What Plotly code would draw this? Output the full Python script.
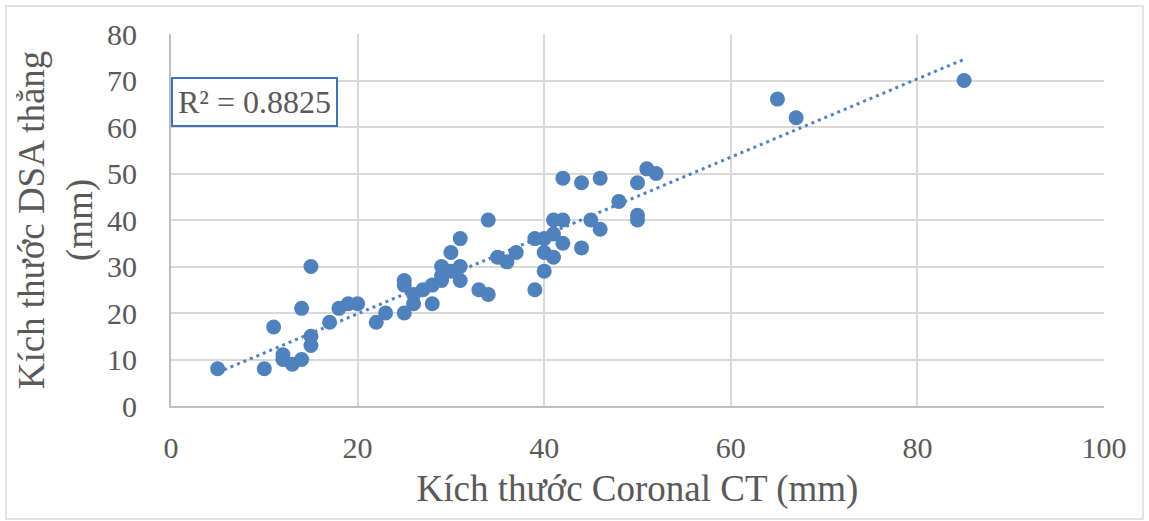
import numpy as np
import plotly.graph_objects as go

ct_mm = [5, 10, 11, 12, 12, 13, 14, 14, 15, 15, 15, 17, 18, 19, 20, 22, 23,
         25, 25, 25, 26, 26, 27, 28, 28, 29, 29, 29, 30, 30, 31, 31, 31,
         33, 34, 34, 35, 36, 37, 39, 39, 40, 40, 40, 41, 41, 41,
         42, 42, 42, 44, 44, 45, 46, 46, 48, 50, 50, 50, 51, 52, 65, 67, 85]
dsa_mm = [8, 8, 17, 11, 10, 9, 21, 10, 30, 15, 13, 18, 21, 22, 22, 18, 20,
          27, 26, 20, 24, 22, 25, 26, 22, 30, 28, 27, 33, 29, 36, 30, 27,
          25, 40, 24, 32, 31, 33, 36, 25, 36, 33, 29, 40, 37, 32,
          49, 40, 35, 48, 34, 40, 49, 38, 44, 48, 41, 40, 51, 50, 66, 62, 70]
r2_label = "R² = 0.8825"
x_ticks = [0, 20, 40, 60, 80, 100]
y_ticks = [0, 10, 20, 30, 40, 50, 60, 70, 80]

blue = "#4f81bd"
gray_txt = "#595959"

slope, intercept = np.polyfit(ct_mm, dsa_mm, 1)
tx = np.array([min(ct_mm), max(ct_mm)])
ty = slope * tx + intercept

fig = go.Figure()
fig.add_trace(go.Scatter(x=tx, y=ty, mode="lines",
                         line=dict(color=blue, width=3, dash="3px,4px"),
                         hoverinfo="skip", showlegend=False))
fig.add_trace(go.Scatter(x=ct_mm, y=dsa_mm, mode="markers",
                         marker=dict(color=blue, size=15, line=dict(width=0)),
                         showlegend=False))

W, H = 1149, 521
ml, mr, mt, mb = 171, 45, 34, 115
fig.update_layout(
    width=W, height=H,
    margin=dict(l=ml, r=mr, t=mt, b=mb),
    paper_bgcolor="white", plot_bgcolor="white",
    font=dict(family="Liberation Serif", color=gray_txt, size=30),
    xaxis=dict(range=[0, 100], tickvals=x_ticks, showgrid=True,
               gridcolor="#d9d9d9", gridwidth=2, zeroline=False,
               showline=True, linecolor="#bfbfbf", linewidth=2,
               ticklabelstandoff=14,
               tickfont=dict(size=30, color=gray_txt),
               title=dict(text="Kích thước Coronal CT (mm)",
                          font=dict(size=37, color=gray_txt), standoff=12)),
    yaxis=dict(range=[0, 80], tickvals=y_ticks, showgrid=True,
               gridcolor="#d9d9d9", gridwidth=2, zeroline=False,
               showline=True, linecolor="#bfbfbf", linewidth=2,
               ticklabelstandoff=26,
               tickfont=dict(size=30, color=gray_txt),
               title=dict(text="Kích thước DSA thẳng<br>(mm)",
                          font=dict(size=37, color=gray_txt), standoff=3)),
)

pw = W - ml - mr
ph = H - mt - mb
def px2x(p):
    return (p - ml) / pw
def py2y(p):
    return 1 - (p - mt) / ph

fig.add_annotation(x=px2x(171), y=py2y(102.5), xref="paper", yref="paper",
                   xanchor="left", yanchor="middle", text=r2_label,
                   showarrow=False, font=dict(size=32, color=gray_txt),
                   bordercolor="#3f73b5", borderwidth=2, borderpad=5,
                   bgcolor="white")
fig.add_shape(type="rect", xref="paper", yref="paper",
              x0=px2x(6), x1=px2x(W - 6), y0=py2y(6), y1=py2y(H - 2),
              line=dict(color="#d9d9d9", width=1.5), layer="below")

fig.write_html("out.html")
